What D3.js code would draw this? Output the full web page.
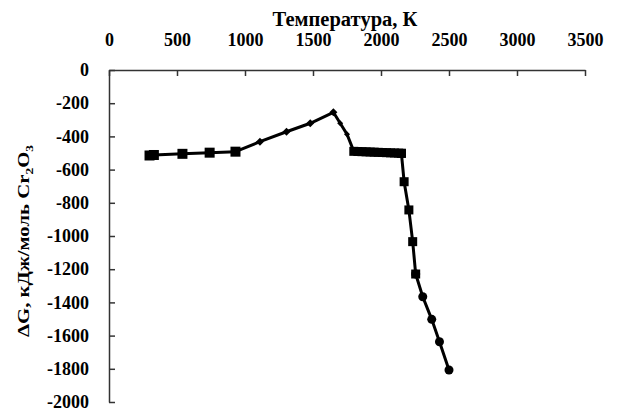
<!DOCTYPE html>
<html>
<head>
<meta charset="utf-8">
<script src="https://cdn.jsdelivr.net/npm/d3@7"></script>
<style>
  body { margin: 0; background: #fff; }
  text { font-family: "Liberation Serif", "Times New Roman", serif; font-weight: bold; fill: #000; }
</style>
</head>
<body>
<div id="chart"></div>
<script>
// data (T in K, dG in kJ/mol Cr2O3)
const t1 = [298, 330, 540, 740, 930];
const g1 = [-515, -512, -505, -498, -492];
const t2 = [930, 1110, 1305, 1480, 1650];
const g2 = [-492, -432, -372, -321, -255];
const t3 = [1650, 1700, 1750, 1800];
const g3 = [-255, -321, -387, -490];
const t4 = [1800, 1830, 1860, 1890, 1920, 1950, 1980, 2010, 2040, 2070, 2100, 2130, 2150];
const g4 = [-490, -491, -492, -493, -494, -495, -496, -497, -498, -499, -500, -501, -502];
const t5 = [2150, 2170, 2205, 2233, 2255];
const g5 = [-502, -673, -843, -1034, -1229];
const t6 = [2255, 2307, 2373, 2430, 2500];
const g6 = [-1229, -1366, -1502, -1637, -1807];

const xTicks = [0, 500, 1000, 1500, 2000, 2500, 3000, 3500];
const yTicks = [0, -200, -400, -600, -800, -1000, -1200, -1400, -1600, -1800, -2000];

const W = 618, H = 414;
const margin = { top: 70, right: 33, bottom: 12, left: 109 },
      width = W - margin.left - margin.right,
      height = H - margin.top - margin.bottom;

const svg = d3.select("#chart").append("svg")
    .attr("width", W).attr("height", H);
const g = svg.append("g")
    .attr("transform", `translate(${margin.left},${margin.top})`);

const x = d3.scaleLinear().domain([0, 3500]).range([0, width]);
const y = d3.scaleLinear().domain([0, -2000]).range([0, height]);

// plain integer labels with a hyphen for minus, like the original
const fmt = d => String(d);

// axes: x on top, ticks pointing into the plot
const xAxis = g.append("g")
    .call(d3.axisTop(x).tickValues(xTicks).tickFormat(fmt)
        .tickSizeInner(-6).tickSizeOuter(0).tickPadding(24));
const yAxis = g.append("g")
    .call(d3.axisLeft(y).tickValues(yTicks).tickFormat(fmt)
        .tickSizeInner(-6).tickSizeOuter(0).tickPadding(20));
[xAxis, yAxis].forEach(a => {
    a.attr("font-family", null);
    a.select(".domain").attr("stroke", "#333").attr("stroke-width", 1.5);
    a.selectAll(".tick line").attr("stroke", "#333").attr("stroke-width", 1.5);
    a.selectAll("text").attr("font-size", 18);
});

// series
const series = [
    { t: t1, g: g1, m: "square", s: 10 },
    { t: t2, g: g2, m: "diamond", s: 8 },
    { t: t3, g: g3, m: "diamond", s: 6 },
    { t: t4, g: g4, m: "square", s: 9 },
    { t: t5, g: g5, m: "square", s: 9 },
    { t: t6, g: g6, m: "circle", s: 9 }
];

const line = d3.line().x(d => x(d[0])).y(d => y(d[1]));

series.forEach(sr => {
    const pts = sr.t.map((v, i) => [v, sr.g[i]]);
    g.append("path")
        .datum(pts)
        .attr("fill", "none")
        .attr("stroke", "#000")
        .attr("stroke-width", 3)
        .attr("d", line);
});

series.forEach(sr => {
    const pts = sr.t.map((v, i) => [v, sr.g[i]]);
    const grp = g.append("g");
    pts.forEach(p => {
        const cx = x(p[0]), cy = y(p[1]), s = sr.s;
        if (sr.m === "square") {
            grp.append("rect").attr("x", cx - s / 2).attr("y", cy - s / 2)
                .attr("width", s).attr("height", s).attr("fill", "#000");
        } else if (sr.m === "circle") {
            grp.append("circle").attr("cx", cx).attr("cy", cy).attr("r", s / 2).attr("fill", "#000");
        } else {
            grp.append("path")
                .attr("d", `M${cx},${cy - s / 2}L${cx + s / 2},${cy}L${cx},${cy + s / 2}L${cx - s / 2},${cy}Z`)
                .attr("fill", "#000");
        }
    });
});

// titles
svg.append("text")
    .attr("x", 345).attr("y", 26)
    .attr("text-anchor", "middle")
    .attr("font-size", 20.5)
    .text("Температура, К");

const yl = svg.append("text")
    .attr("transform", "translate(29,241) rotate(-90)")
    .attr("text-anchor", "middle")
    .attr("font-size", 17)
    .attr("textLength", 192)
    .attr("lengthAdjust", "spacingAndGlyphs");
yl.append("tspan").text("ΔG, кДж/моль Cr");
yl.append("tspan").attr("font-size", 11).attr("dy", 4).text("2");
yl.append("tspan").attr("dy", -4).text("O");
yl.append("tspan").attr("font-size", 11).attr("dy", 4).text("3");
</script>
</body>
</html>
